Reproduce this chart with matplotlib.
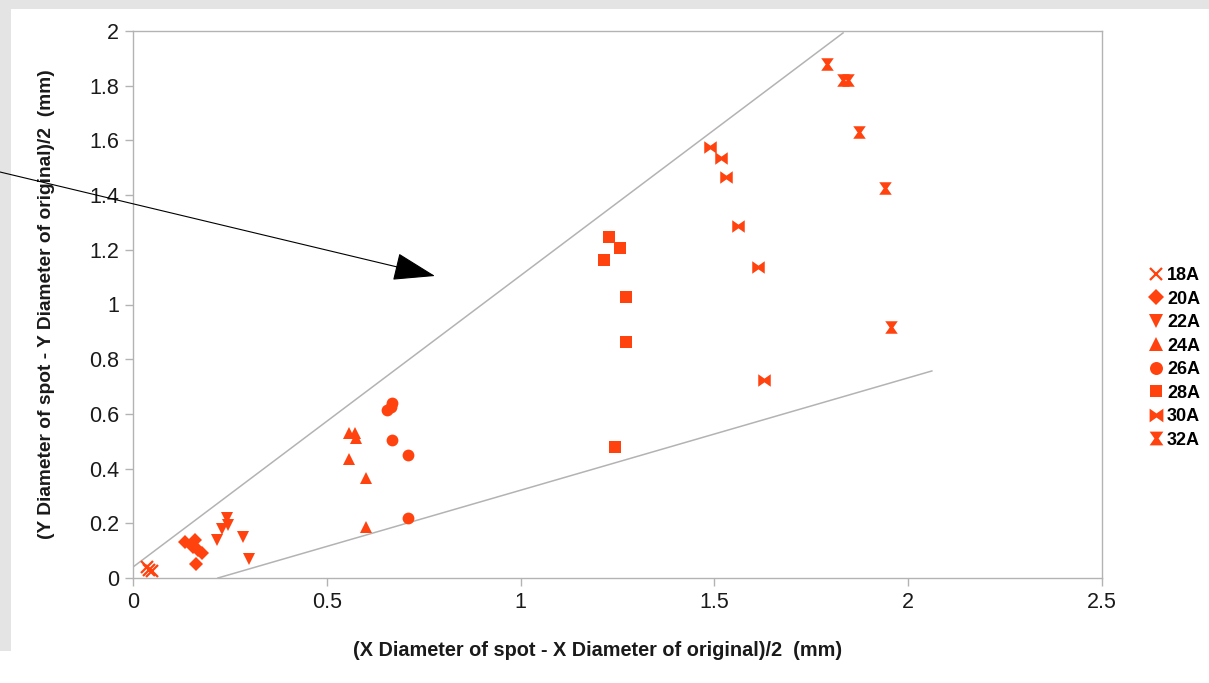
import matplotlib
matplotlib.use("Agg")
from matplotlib import pyplot as plt
from matplotlib.patches import Rectangle

plt.rcParams['font.family'] = ['Liberation Sans', 'DejaVu Sans']

RED = '#ff420e'
GRID_GRAY = '#b3b3b3'

# measured points, one pair of lists per current
x18 = [0.037, 0.048, 0.042]
y18 = [0.040, 0.025, 0.030]
x20 = [0.134, 0.160, 0.155, 0.168, 0.178, 0.163]
y20 = [0.132, 0.139, 0.113, 0.102, 0.091, 0.051]
x22 = [0.217, 0.230, 0.243, 0.245, 0.284, 0.299]
y22 = [0.139, 0.179, 0.219, 0.194, 0.150, 0.069]
x24 = [0.557, 0.573, 0.575, 0.557, 0.601, 0.601]
y24 = [0.530, 0.530, 0.512, 0.435, 0.366, 0.186]
x26 = [0.655, 0.668, 0.666, 0.668, 0.709, 0.709]
y26 = [0.614, 0.640, 0.625, 0.505, 0.450, 0.219]
x28 = [1.228, 1.256, 1.215, 1.272, 1.272, 1.244]
y28 = [1.247, 1.207, 1.163, 1.027, 0.863, 0.479]
x30 = [1.489, 1.517, 1.530, 1.561, 1.612, 1.628]
y30 = [1.576, 1.536, 1.466, 1.287, 1.137, 0.724]
x32 = [1.790, 1.832, 1.845, 1.873, 1.940, 1.956]
y32 = [1.879, 1.821, 1.821, 1.631, 1.426, 0.918]

# the two bounding guide lines
upper_x = [0.0, 1.832]
upper_y = [0.040, 1.993]
lower_x = [0.219, 2.061]
lower_y = [0.0, 0.757]

# bowtie shapes with a small waist, like the office-suite markers
bowtie = [(-1, 1), (-1, -1), (0, -0.3), (1, -1), (1, 1), (0, 0.3), (-1, 1)]
hourglass = [(-1, 1), (1, 1), (0.3, 0), (1, -1), (-1, -1), (-0.3, 0), (-1, 1)]

series = [
    ('18A', x18, y18, 'x', 8.5),
    ('20A', x20, y20, 'D', 7.5),
    ('22A', x22, y22, 'v', 9),
    ('24A', x24, y24, '^', 9),
    ('26A', x26, y26, 'o', 8.5),
    ('28A', x28, y28, 's', 8),
    ('30A', x30, y30, bowtie, 9),
    ('32A', x32, y32, hourglass, 9),
]

fig = plt.figure(figsize=(12.09, 6.83), dpi=100)
fig.patch.set_facecolor('white')
# grey slide border behind the chart
fig.patches.append(Rectangle((0, 0), 1, 1, transform=fig.transFigure,
                             facecolor='#e4e4e4', edgecolor='none', zorder=-10))
fig.patches.append(Rectangle((11 / 1209, 0), 1, 1 - 9 / 683, transform=fig.transFigure,
                             facecolor='white', edgecolor='none', zorder=-9))
fig.patches.append(Rectangle((0, 0), 1, 32 / 683, transform=fig.transFigure,
                             facecolor='white', edgecolor='none', zorder=-9))

ax = fig.add_axes([133 / 1209, 1 - 578 / 683, (1102 - 133) / 1209, (578 - 31) / 683])
ax.set_facecolor('none')

ax.plot(upper_x, upper_y, color=GRID_GRAY, lw=1.1)
ax.plot(lower_x, lower_y, color=GRID_GRAY, lw=1.1)

for label, xs, ys, mk, ms in series:
    if mk == 'x':
        ax.plot(xs, ys, linestyle='none', marker=mk, markersize=ms, color=RED,
                markeredgewidth=1.6, label=label, clip_on=False)
    else:
        ax.plot(xs, ys, linestyle='none', marker=mk, markersize=ms, color=RED,
                markeredgewidth=0, label=label, clip_on=False)

ax.set_xlim(0, 2.5)
ax.set_ylim(0, 2)
ax.set_xticks([0, 0.5, 1, 1.5, 2, 2.5])
ax.set_xticklabels(['0', '0.5', '1', '1.5', '2', '2.5'])
ax.set_yticks([0, 0.2, 0.4, 0.6, 0.8, 1, 1.2, 1.4, 1.6, 1.8, 2])
ax.set_yticklabels(['0', '0.2', '0.4', '0.6', '0.8', '1', '1.2', '1.4', '1.6', '1.8', '2'])
ax.tick_params(axis='both', direction='out', length=6, width=1, color=GRID_GRAY,
               labelsize=15.5, labelcolor='#1a1a1a', pad=4)
for sp in ax.spines.values():
    sp.set_color(GRID_GRAY)
    sp.set_linewidth(1)

ax.set_xlabel('(X Diameter of spot - X Diameter of original)/2  (mm)',
              fontsize=14.3, fontweight='bold', color='#1a1a1a')
ax.set_ylabel('(Y Diameter of spot - Y Diameter of original)/2  (mm)',
              fontsize=13.8, fontweight='bold', color='#1a1a1a')
ax.xaxis.set_label_coords((598 - 133) / 969, -(650 - 578) / 547)
ax.yaxis.set_label_coords(-(133 - 47) / 969, 0.5)
ax.xaxis.label.set_va('center')
ax.yaxis.label.set_va('center')

leg = ax.legend(loc='center left', bbox_to_anchor=(1140 / 1209, 1 - 358 / 683),
                bbox_transform=fig.transFigure, frameon=False,
                prop={'size': 13, 'weight': 'bold'}, handlelength=0.8,
                handletextpad=0.2, labelspacing=0.36, borderpad=0, markerscale=1.1)

ax.annotate('', xy=(435, 683 - 276), xycoords='figure pixels',
            xytext=(0, 683 - 172), textcoords='figure pixels',
            arrowprops=dict(arrowstyle='-|>,head_length=1.35,head_width=0.45',
                            mutation_scale=20, color='black', lw=0.8,
                            shrinkA=0, shrinkB=0),
            annotation_clip=False, zorder=10)

fig.savefig('out.png', dpi=100)
